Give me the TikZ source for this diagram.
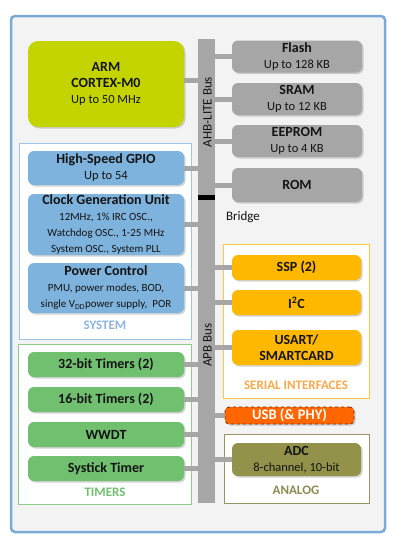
\documentclass[tikz,border=0pt]{standalone}
\usepackage{fontspec}
\setmainfont{Carlito}
\usetikzlibrary{shadows}
\definecolor{armcol}{RGB}{196,212,0}
\definecolor{memcol}{RGB}{166,166,166}
\definecolor{syscol}{RGB}{126,179,221}
\definecolor{timcol}{RGB}{112,192,112}
\definecolor{sercol}{RGB}{255,184,0}
\definecolor{anacol}{RGB}{146,146,74}
\definecolor{usbcol}{RGB}{255,102,0}
\definecolor{usbedge}{RGB}{110,45,0}
\definecolor{outerb}{RGB}{122,171,214}
\definecolor{outerf}{RGB}{243,243,243}
\definecolor{sysframe}{RGB}{157,195,230}
\definecolor{timframe}{RGB}{140,205,140}
\definecolor{serframe}{RGB}{255,200,60}
\definecolor{anaframe}{RGB}{150,150,100}
\definecolor{syslab}{RGB}{141,180,226}
\definecolor{timlab}{RGB}{112,192,112}
\definecolor{serlab}{RGB}{249,169,75}
\definecolor{analab}{RGB}{140,140,80}
\definecolor{txt}{RGB}{20,20,20}
\newcommand\mtitle{\bfseries\fontsize{14}{16}\selectfont}
\newcommand\msub{\normalfont\fontsize{12.5}{15}\selectfont}
\newcommand\mtiny{\normalfont\fontsize{11}{12.3}\selectfont}
\tikzset{
  blk/.style={rounded corners=6pt, inner sep=0pt, align=center, text=txt,
    font=\mtitle,
    drop shadow={opacity=0.35, shadow xshift=1.5pt, shadow yshift=-1.5pt}},
  armbox/.style={blk, fill=armcol, rounded corners=10pt, minimum width=156, minimum height=86},
  membox/.style={blk, fill=memcol, minimum width=130, minimum height=32},
  sysbox/.style={blk, fill=syscol, minimum width=156},
  timbox/.style={blk, fill=timcol, minimum width=156, minimum height=25},
  serbox/.style={blk, fill=sercol, minimum width=129},
  anabox/.style={blk, fill=anacol, minimum width=129, minimum height=33},
  conn/.style={draw=memcol, line width=5pt},
  frlab/.style={font=\bfseries\fontsize{13}{15}\selectfont, inner sep=0pt},
  buslab/.style={font=\fontsize{13}{15}\selectfont, rotate=90, inner sep=0pt, text=txt},
}
\begin{document}
\begin{tikzpicture}[x=1pt,y=-1pt]
\useasboundingbox (0,0) rectangle (400,549);
% outer frame
\draw[draw=outerb, line width=2.5pt, fill=outerf, rounded corners=4pt] (11,16) rectangle (385,532);
% group frames
\draw[draw=sysframe, fill=white, line width=0.6pt] (19,143) rectangle (191,339);
\draw[draw=timframe, fill=white, line width=0.6pt] (18,344) rectangle (191,504);
\draw[draw=serframe, fill=white, line width=0.6pt] (223,244) rectangle (369,398);
\draw[draw=anaframe, fill=white, line width=0.6pt] (224,434) rectangle (369,503);
% bus
\node[fill=memcol, minimum width=17, minimum height=464, inner sep=0pt] (bus) at (206.5,271) {};
\node[fill=black, minimum width=17, minimum height=5, inner sep=0pt] (bridgebar) at (206.5,197.5) {};
\node[buslab] (ahb) at (207.5,112) {AHB-LITE Bus};
\node[buslab] (apb) at (207.5,345) {APB Bus};
\node[font=\fontsize{13}{15}\selectfont, inner sep=0pt, text=txt] (bridge) at (243,217) {Bridge};
% CPU
\node[armbox] (arm) at (106,84) {ARM\\CORTEX-M0\\\msub Up to 50 MHz};
% memories
\node[membox] (flash) at (297,56.5) {Flash\\\msub Up to 128 KB};
\node[membox] (sram) at (297,99) {SRAM\\\msub Up to 12 KB};
\node[membox] (eeprom) at (297,141) {EEPROM\\\msub Up to 4 KB};
\node[membox, minimum height=34] (rom) at (297,185) {ROM};
% system
\node[sysbox, minimum height=34] (gpio) at (106,168) {High-Speed GPIO\\\msub Up to 54};
\node[sysbox, minimum height=61] (clk) at (106,224.5) {Clock Generation Unit\\\mtiny 12MHz, 1\% IRC OSC.,\\\mtiny Watchdog OSC., 1-25 MHz\\\mtiny System OSC., System PLL};
\node[sysbox, minimum height=50] (pwr) at (106,288) {Power Control\\\mtiny PMU, power modes, BOD,\\\mtiny single V\textsubscript{DD}power supply,\ \ POR};
\node[frlab, text=syslab] (syslbl) at (105,325) {SYSTEM};
% timers
\node[timbox] (t32) at (106,364.5) {32-bit Timers (2)};
\node[timbox] (t16) at (106,399.5) {16-bit Timers (2)};
\node[timbox] (wwdt) at (106,434.5) {WWDT};
\node[timbox] (systick) at (106,468.5) {Systick Timer};
\node[frlab, text=timlab] (timlbl) at (105,492) {TIMERS};
% serial
\node[serbox, minimum height=25] (ssp) at (296.5,267.5) {SSP (2)};
\node[serbox, minimum height=25] (i2c) at (296.5,302.5) {I\textsuperscript{2}C};
\node[serbox, minimum height=35] (usart) at (296.5,347.5) {USART/\\SMARTCARD};
\node[frlab, text=serlab] (serlbl) at (296,385) {SERIAL INTERFACES};
% usb
\node[blk, fill=usbcol, draw=usbedge, dashed, line width=0.8pt, rounded corners=4pt, minimum width=129, minimum height=17, text=white, font=\bfseries\fontsize{14.5}{16}\selectfont] (usb) at (289.5,415.5) {USB (\& PHY)};
% analog
\node[anabox] (adc) at (296.5,459.5) {ADC\\\msub 8-channel, 10-bit};
\node[frlab, text=analab] (analbl) at (296,490) {ANALOG};
% connectors
\draw[conn] ([yshift=4pt]arm.east) -- ([yshift=4pt]arm.east -| bus.west);
\foreach \n in {gpio,clk,pwr,t32,t16,wwdt,systick}{
  \draw[conn] (\n.east) -- (\n.east -| bus.west);
}
\foreach \n in {flash,sram,eeprom,rom,ssp,i2c,usart,usb,adc}{
  \draw[conn] (\n.west) -- (\n.west -| bus.east);
}
\end{tikzpicture}
\end{document}
